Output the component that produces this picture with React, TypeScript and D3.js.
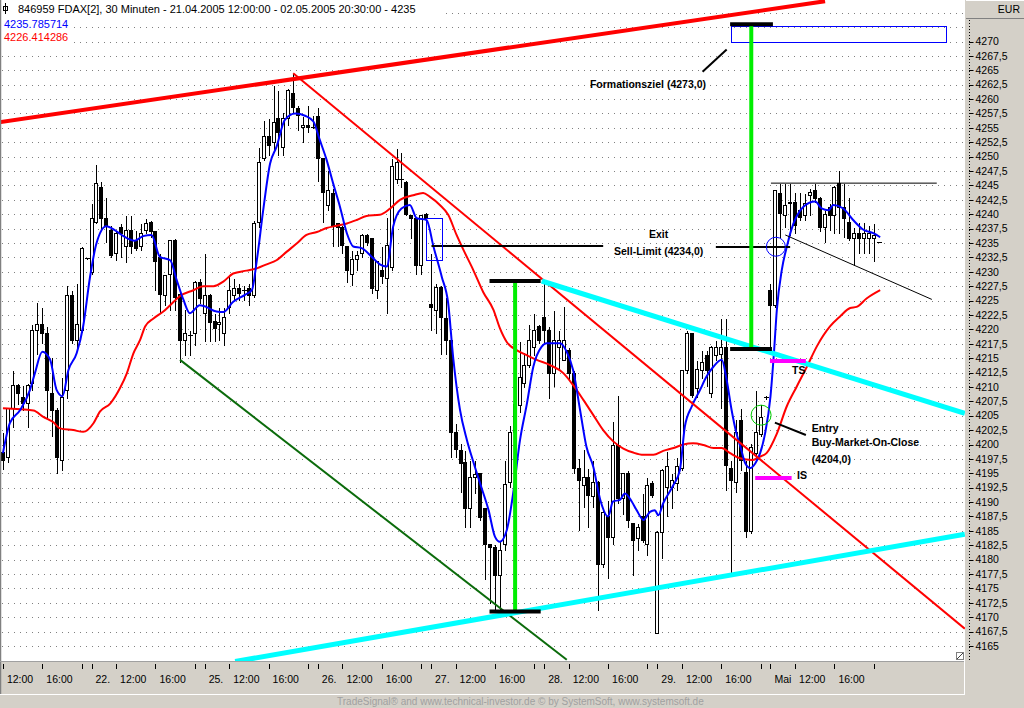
import React from 'react';
import * as d3 from 'd3';

// FDAX 30-minute bars, 21.04.2005 12:00 .. 02.05.2005 20:30 (179 bars)
const opens = [
  4198.7, 4197.9, 4206.3, 4210.4, 4208.3, 4207.2, 4210.6, 4219.9, 4220.9, 4219.4,
  4208.9, 4206.0, 4197.3, 4209.5, 4226.0, 4218.2, 4219.9, 4232.4, 4230.0, 4238.7,
  4244.8, 4239.3, 4237.3, 4233.2, 4237.8, 4234.4, 4237.3, 4235.6, 4234.4, 4237.3,
  4238.7, 4237.0, 4232.6, 4226.0, 4229.7, 4235.5, 4226.2, 4218.2, 4219.0, 4219.3,
  4228.3, 4222.8, 4226.0, 4221.4, 4220.9, 4219.3, 4223.9, 4226.0, 4227.2, 4226.8,
  4227.2, 4226.0, 4238.7, 4249.7, 4253.5, 4252.6, 4256.7, 4251.7, 4256.7, 4261.0,
  4258.4, 4255.2, 4255.5, 4255.2, 4257.0, 4249.7, 4241.6, 4243.6, 4238.4, 4237.8,
  4234.4, 4229.7, 4232.3, 4233.2, 4236.4, 4235.8, 4226.8, 4230.3, 4228.9, 4230.9,
  4246.2, 4246.2, 4245.6, 4239.9, 4239.3, 4231.2, 4240.1, 4224.4, 4223.4, 4227.4,
  4221.9, 4218.2, 4202.2, 4199.0, 4197.0, 4188.9, 4194.4, 4195.0, 4188.9, 4182.8,
  4182.2, 4177.3, 4182.8, 4193.5, 4202.2, 4206.8, 4210.6, 4213.8, 4217.0, 4220.5,
  4222.2, 4219.9, 4212.4, 4217.0, 4214.7, 4216.4, 4212.4, 4195.9, 4192.9, 4194.4,
  4191.0, 4193.5, 4179.3, 4187.5, 4184.0, 4199.9, 4190.7, 4195.0, 4186.3, 4183.7,
  4187.5, 4182.8, 4193.3, 4167.2, 4184.8, 4192.7, 4192.7, 4193.3, 4195.9, 4213.0,
  4219.3, 4209.8, 4213.0, 4215.5, 4208.9, 4215.5, 4215.8, 4217.0, 4195.9, 4193.5,
  4204.2, 4195.3, 4184.9, 4198.5, 4201.9, 4208.3, 4226.8, 4224.2, 4243.6, 4239.9,
  4241.9, 4242.2, 4240.7, 4239.9, 4243.3, 4244.2, 4242.8, 4237.8, 4241.3, 4239.9,
  4245.4, 4241.3, 4238.7, 4235.8, 4236.7, 4235.8, 4235.8, 4235.8, 4235.2,
];
const highs = [
  4202.2, 4206.6, 4212.9, 4210.6, 4210.3, 4210.6, 4221.0, 4224.8, 4223.9, 4220.5,
  4215.2, 4206.6, 4211.8, 4227.7, 4226.8, 4228.0, 4234.4, 4232.6, 4241.9, 4248.8,
  4245.7, 4243.0, 4238.1, 4237.3, 4238.4, 4239.9, 4239.9, 4237.3, 4238.4, 4239.3,
  4239.0, 4237.3, 4233.2, 4229.7, 4235.5, 4235.8, 4226.8, 4223.6, 4219.9, 4228.6,
  4229.0, 4233.2, 4226.3, 4222.8, 4223.9, 4223.9, 4229.2, 4228.9, 4228.0, 4227.7,
  4228.0, 4239.0, 4251.7, 4256.4, 4256.7, 4262.4, 4261.6, 4257.8, 4261.9, 4264.5,
  4259.0, 4257.0, 4259.0, 4257.2, 4258.7, 4250.0, 4247.7, 4244.5, 4238.7, 4238.1,
  4234.7, 4233.8, 4233.8, 4236.7, 4236.7, 4236.1, 4232.1, 4234.4, 4239.6, 4249.7,
  4251.5, 4250.8, 4245.9, 4240.1, 4239.6, 4240.1, 4240.4, 4233.2, 4228.0, 4227.7,
  4225.7, 4218.4, 4203.7, 4200.2, 4199.0, 4197.3, 4197.3, 4195.3, 4189.2, 4182.8,
  4182.8, 4183.4, 4197.3, 4203.4, 4212.0, 4217.9, 4216.1, 4221.0, 4222.8, 4221.0,
  4228.6, 4220.5, 4223.4, 4219.9, 4224.0, 4217.0, 4213.0, 4197.6, 4199.3, 4195.9,
  4197.3, 4193.8, 4188.6, 4190.4, 4204.0, 4208.6, 4195.3, 4195.6, 4186.6, 4186.3,
  4191.5, 4194.4, 4193.8, 4185.1, 4195.9, 4198.8, 4195.0, 4197.9, 4213.0, 4219.9,
  4219.6, 4214.7, 4216.4, 4216.4, 4217.3, 4218.2, 4221.9, 4221.9, 4197.3, 4204.5,
  4206.3, 4197.3, 4200.2, 4209.5, 4207.1, 4208.6, 4228.0, 4244.2, 4245.4, 4245.4,
  4245.4, 4243.9, 4243.9, 4243.6, 4244.5, 4245.4, 4243.1, 4240.7, 4241.9, 4245.1,
  4247.7, 4245.4, 4243.0, 4237.8, 4238.7, 4238.7, 4238.1, 4238.4, 4235.2,
];
const lows = [
  4195.8, 4197.0, 4203.1, 4207.1, 4206.0, 4203.1, 4209.5, 4215.8, 4217.6, 4204.8,
  4201.4, 4195.0, 4195.6, 4208.0, 4217.6, 4216.4, 4219.6, 4232.2, 4229.7, 4238.4,
  4237.3, 4235.2, 4232.6, 4232.0, 4232.6, 4231.7, 4233.2, 4233.8, 4233.8, 4236.7,
  4236.1, 4226.8, 4223.1, 4224.2, 4223.4, 4223.4, 4214.4, 4215.5, 4215.5, 4217.3,
  4224.5, 4217.9, 4217.9, 4217.9, 4218.2, 4217.3, 4222.8, 4225.1, 4225.1, 4225.1,
  4224.2, 4225.7, 4237.8, 4249.4, 4250.3, 4251.2, 4250.3, 4250.3, 4255.5, 4257.5,
  4254.6, 4252.6, 4254.3, 4254.9, 4245.7, 4238.7, 4240.7, 4234.4, 4234.4, 4233.2,
  4228.3, 4227.7, 4230.3, 4232.6, 4234.7, 4226.3, 4225.4, 4228.0, 4222.8, 4230.3,
  4245.5, 4244.8, 4239.9, 4235.8, 4229.7, 4229.7, 4239.0, 4219.9, 4219.3, 4215.8,
  4215.8, 4197.9, 4197.9, 4191.8, 4185.7, 4185.7, 4191.5, 4186.9, 4176.7, 4172.4,
  4171.2, 4170.9, 4181.6, 4192.7, 4200.5, 4205.7, 4210.0, 4213.5, 4215.5, 4217.6,
  4217.6, 4208.0, 4210.1, 4213.0, 4214.7, 4211.2, 4195.0, 4185.1, 4189.2, 4185.7,
  4189.2, 4171.3, 4178.8, 4176.8, 4182.8, 4189.8, 4188.0, 4185.7, 4177.3, 4181.7,
  4183.1, 4180.8, 4190.9, 4167.2, 4180.2, 4187.5, 4188.9, 4192.1, 4195.6, 4212.4,
  4208.3, 4208.3, 4211.5, 4210.1, 4208.3, 4214.7, 4206.3, 4192.1, 4177.3, 4191.8,
  4195.6, 4184.0, 4184.6, 4197.3, 4201.4, 4207.9, 4216.7, 4223.9, 4236.1, 4237.8,
  4236.4, 4236.7, 4239.0, 4239.0, 4239.9, 4242.2, 4237.0, 4235.2, 4237.3, 4236.7,
  4236.7, 4236.1, 4235.5, 4231.2, 4233.2, 4233.2, 4233.2, 4231.8, 4235.2,
];
const closes = [
  4197.3, 4206.3, 4210.4, 4208.9, 4207.2, 4210.4, 4219.9, 4220.9, 4219.3, 4209.5,
  4206.0, 4197.9, 4208.3, 4226.0, 4218.2, 4221.0, 4234.2, 4232.4, 4239.3, 4245.4,
  4239.3, 4238.1, 4232.9, 4236.7, 4236.7, 4237.3, 4234.4, 4234.1, 4236.7, 4238.4,
  4237.0, 4231.8, 4226.2, 4229.4, 4235.5, 4225.7, 4218.2, 4219.3, 4219.0, 4228.3,
  4225.5, 4226.0, 4221.3, 4220.3, 4221.3, 4222.2, 4226.8, 4227.2, 4226.3, 4226.8,
  4226.0, 4238.4, 4249.1, 4253.5, 4252.0, 4256.1, 4254.3, 4256.7, 4261.6, 4258.7,
  4257.2, 4255.5, 4255.2, 4255.2, 4249.7, 4243.9, 4244.2, 4238.1, 4237.8, 4234.7,
  4230.3, 4232.3, 4232.9, 4236.4, 4235.2, 4227.1, 4231.8, 4229.3, 4234.6, 4248.3,
  4249.0, 4246.2, 4240.1, 4239.3, 4231.2, 4239.9, 4239.3, 4223.9, 4227.4, 4222.2,
  4218.2, 4202.2, 4199.3, 4196.7, 4188.9, 4194.4, 4194.9, 4187.4, 4182.8, 4182.2,
  4177.3, 4181.6, 4193.2, 4202.2, 4207.0, 4211.8, 4213.8, 4218.2, 4219.9, 4218.2,
  4219.9, 4212.4, 4218.2, 4218.2, 4218.2, 4212.4, 4195.9, 4193.8, 4194.4, 4191.2,
  4193.5, 4179.3, 4188.3, 4184.0, 4199.9, 4190.7, 4195.0, 4186.9, 4183.4, 4185.7,
  4183.4, 4192.9, 4191.2, 4184.8, 4195.6, 4196.2, 4193.8, 4196.2, 4213.0, 4219.3,
  4208.6, 4213.2, 4214.4, 4213.0, 4217.0, 4217.0, 4217.0, 4196.4, 4193.8, 4202.2,
  4197.3, 4184.9, 4199.6, 4202.2, 4204.8, 4208.3, 4224.2, 4244.2, 4240.2, 4241.6,
  4242.2, 4238.1, 4239.6, 4241.9, 4243.9, 4242.8, 4237.8, 4240.1, 4239.9, 4244.8,
  4241.3, 4239.3, 4235.8, 4236.7, 4235.8, 4236.7, 4236.7, 4236.4, 4235.2,
];

// short moving average (blue) as [bar, price]
const blueAvg = [
  [0, 4198.5], [1.4, 4203.7], [3.5, 4206.0], [5.5, 4209.5], [6.5, 4212.4], [8, 4216.1],
  [9.6, 4214.7], [10.9, 4209.5], [12.1, 4208.4], [13.3, 4212.9], [15, 4215.9], [16.3, 4220.5],
  [17.7, 4229.1], [19, 4234.9], [21, 4237.9], [22.8, 4237.2], [24.5, 4236.2], [26.8, 4235.4],
  [28.5, 4236.2], [30.2, 4236.4], [31.9, 4232.6], [34, 4232.0], [35.3, 4228.6], [36.7, 4225.1],
  [38, 4222.8], [40, 4224.2], [41, 4224.0], [43.4, 4223.1], [44.8, 4223.0], [46.8, 4224.8],
  [49.2, 4226.0], [50.6, 4226.8], [51.6, 4232.0], [52.9, 4240.7], [54.3, 4248.8], [55.6, 4251.7],
  [57.3, 4256.4], [59.4, 4257.5], [61.4, 4257.1], [63.1, 4256.1], [64.4, 4252.9], [65.8, 4249.4],
  [67.1, 4245.4], [68.5, 4241.3], [69.9, 4236.7], [71.2, 4234.4], [72.9, 4234.1], [75.3, 4232.3],
  [76.6, 4231.3], [78, 4230.9], [79.3, 4237.8], [81, 4241.0], [82.7, 4241.6], [84.1, 4239.3],
  [86.1, 4239.0], [87.5, 4234.4], [89.2, 4229.1], [90.5, 4224.5], [91.5, 4215.2], [92.9, 4206.0],
  [94.3, 4200.8], [95.6, 4197.0], [97, 4193.2], [98.7, 4188.6], [100, 4184.0], [101, 4183.1],
  [102.4, 4185.1], [103.7, 4191.5], [105.1, 4200.8], [106.5, 4207.1], [107.8, 4213.5],
  [109.5, 4217.0], [110.5, 4217.6], [113.2, 4217.6], [114.6, 4216.1], [115.9, 4212.9],
  [117.3, 4206.0], [118.6, 4199.6], [120, 4196.1], [121.4, 4190.4], [123, 4187.5], [124, 4190.1],
  [125.4, 4190.4], [126.4, 4191.5], [127.8, 4190.1], [128.8, 4188.6], [130.2, 4186.9],
  [131.5, 4188.3], [132.5, 4188.6], [133.2, 4187.7], [134.2, 4189.8], [136.3, 4193.0],
  [137.6, 4195.6], [138.6, 4203.1], [140, 4206.6], [141.7, 4209.5], [143, 4211.8], [144.4, 4213.5],
  [146.1, 4214.7], [147.1, 4211.2], [148.1, 4206.0], [149.1, 4201.9], [149.9, 4199.6],
  [150.9, 4196.7], [151.9, 4195.9], [152.9, 4196.7], [153.9, 4198.5], [154.9, 4201.9],
  [156, 4208.3], [156.7, 4215.8], [157.3, 4223.4], [158.3, 4230.3], [159.4, 4234.6],
  [160.2, 4237.2], [161.3, 4239.6], [162.7, 4241.3], [165.1, 4242.2], [166.4, 4241.0],
  [167.8, 4240.7], [168.8, 4241.6], [170.8, 4241.0], [172.8, 4239.0], [174.9, 4237.3],
  [176.9, 4236.7], [178.3, 4236.0],
];

// long moving average (red)
const redAvg = [
  [0, 4206.3], [6.2, 4205.9], [8.2, 4204.8], [10.2, 4203.9], [11.6, 4202.8], [14.3, 4202.5],
  [16.3, 4202.2], [18.4, 4203.7], [19.7, 4205.7], [21.8, 4207.1], [23.8, 4209.8], [25.2, 4212.4],
  [26.5, 4215.8], [27.9, 4218.2], [28.9, 4220.5], [30.6, 4221.9], [32.6, 4223.1], [34, 4224.2],
  [36, 4225.8], [38.7, 4226.8], [40.7, 4227.5], [42.8, 4227.5], [44.8, 4228.3], [46.8, 4229.7],
  [49.5, 4230.2], [51.6, 4230.6], [53.6, 4231.3], [55.6, 4232.0], [57.7, 4233.5], [59.7, 4234.9],
  [61.7, 4236.4], [63.8, 4236.9], [65.8, 4237.6], [67.8, 4238.0], [69.9, 4238.4], [71.9, 4239.0],
  [73.9, 4239.7], [76.6, 4239.9], [78.7, 4241.0], [80.7, 4242.5], [83.4, 4243.3], [85.4, 4243.7],
  [86.8, 4243.0], [88.8, 4241.6], [90.5, 4239.9], [92.2, 4236.4], [93.6, 4233.8], [95.6, 4230.3],
  [97.6, 4226.5], [99.7, 4223.4], [101, 4220.2], [102.4, 4217.8], [104.4, 4216.4], [106.5, 4215.5],
  [108.5, 4214.7], [111.2, 4213.8], [113.9, 4212.4], [115.9, 4210.3], [118, 4207.7], [120, 4205.1],
  [122, 4202.5], [124.1, 4200.5], [126.1, 4199.3], [128.1, 4198.6], [130.2, 4198.2], [132.2, 4198.2],
  [134.2, 4198.9], [136.3, 4199.4], [138.3, 4200.0], [140.3, 4200.2], [142.4, 4199.9],
  [144.4, 4199.4], [146.1, 4199.4], [147.8, 4198.5], [149.8, 4197.6], [152.3, 4197.3],
  [153.6, 4197.8], [155.2, 4198.5], [157.3, 4201.9], [159.3, 4206.6], [161.3, 4210.0],
  [163.4, 4213.5], [165.4, 4217.0], [168.1, 4220.5], [170.1, 4222.2], [172.2, 4223.7],
  [173.5, 4223.9], [175.6, 4225.4], [178.3, 4226.8],
];

// time axis: bar index of each tick and its label ('' = tick only)
const timeTickBars = [0, 8, 16, 18, 23, 31, 39, 41, 46, 54, 62, 64, 69, 77, 85, 87, 92, 100, 108,
  110, 115, 123, 131, 133, 138, 146, 154, 156, 161, 169, 177];
const timeTickLabels = ['12:00', '16:00', '', '22.', '12:00', '16:00', '', '25.', '12:00', '16:00', '',
  '26.', '12:00', '16:00', '', '27.', '12:00', '16:00', '', '28.', '12:00', '16:00', '', '29.', '12:00',
  '16:00', '', 'Mai', '12:00', '16:00', ''];

// drawn annotations, in [bar, price]
const resistLine = [[-0.6, 4256.0], [167.1, 4277.0]];
const downTrend = [[59.0, 4264.5], [195.5, 4168.0]];
const greenTrend = [[36.0, 4214.7], [114.6, 4162.6]];
const cyanLower = [[47.2, 4162.3], [195.5, 4184.4]];
const cyanUpper = [[109.5, 4228.4], [195.5, 4205.4]];
const flagLower = [[159, 4236.4], [188.8, 4225.2]];
const flagUpper = [[156.1, 4245.4], [189.8, 4245.4]];
const exitLineA = [[87.1, 4234.5], [122, 4234.5]];
const exitLineB = [[144.9, 4234.3], [160, 4234.3]];
const targetPointer = [[142.2, 4264.75], [147.1, 4268.6]];
const entryPointer = [[156.9, 4203.8], [163.2, 4201.65]];

// [fromBar, toBar, price]
const measureCaps = [[147.8, 156.5, 4273.0], [98.9, 109.3, 4228.4], [98.9, 109.3, 4171.0], [147.8, 156.3, 4216.6]];
// [bar, fromPrice, toPrice]
const measureLegs = [[104.1, 4228.4, 4171.0], [152.1, 4273.0, 4216.6]];
const stopMarks = [[155.9, 163.2, 4214.5], [152.9, 160.3, 4194.2]];
// [fromBar, toBar, topPrice, bottomPrice]
const boxes = [[148, 191.8, 4272.7, 4269.9], [86, 89.2, 4239.3, 4232.0]];
const exitCircle = [157.1, 4234.35];
const entryCircle = [154.1, 4205.1];

const noteTexts = ['Formationsziel (4273,0)', 'Exit', 'Sell-Limit (4234,0)', 'TS', 'Entry',
  'Buy-Market-On-Close', '(4204,0)', 'IS'];
const noteAt = [[119.3, 4261.9], [131.3, 4235.9], [124.2, 4232.9], [160.4, 4212.2], [164.4, 4202.2],
  [164.4, 4199.7], [164.4, 4196.8], [161.4, 4194.0]];

const W = 1024;
const H = 708;
const PLOT_R = 965;
const PLOT_B = 661;
const FONT = '"Liberation Sans", Arial, sans-serif';

const x = d3.scaleLinear().domain([0, 178]).range([2.94, 878.7]);
const y = d3.scaleLinear().domain([4165, 4270]).range([646, 41.5]);

const gridPrices = d3.range(4165, 4276, 2.5);
const labelPrices = d3.range(4165, 4271, 2.5);
const fmtPrice = (v: number) => d3.format('.1f')(v).replace('.0', '').replace('.', ',');

const px = (v: number) => Math.round(v) + 0.5;

const Seg = ({ pts, color, w }: { pts: number[][]; color: string; w: number }) => (
  <line x1={x(pts[0][0])} y1={y(pts[0][1])} x2={x(pts[1][0])} y2={y(pts[1][1])} stroke={color} strokeWidth={w} />
);

export default function App() {
  const maLine = d3.line<number[]>().x(d => x(d[0])).y(d => y(d[1])).curve(d3.curveMonotoneX);

  const candles = closes.map((c, i) => {
    const o = opens[i];
    const cx = px(x(i));
    const top = px(y(Math.max(o, c)));
    const bot = px(y(Math.min(o, c)));
    return (
      <g key={i}>
        <line x1={cx} x2={cx} y1={px(y(highs[i]))} y2={px(y(lows[i]))} stroke="#000" />
        {bot - top < 1 ? (
          <line x1={cx - 2.5} x2={cx + 2.5} y1={top} y2={top} stroke="#000" />
        ) : (
          <rect x={cx - 2} y={top} width={3} height={bot - top} fill={c >= o ? '#fff' : '#000'} stroke="#000" />
        )}
      </g>
    );
  });

  return (
    <div style={{ position: 'absolute', left: 0, top: 0 }}>
      <svg width={W} height={H} style={{ display: 'block', fontFamily: FONT }}>
        <defs>
          <clipPath id="plot-clip">
            <rect x={1} y={0} width={PLOT_R - 1} height={PLOT_B} />
          </clipPath>
        </defs>
        <rect width={W} height={H} fill="#d4d0c8" />
        <rect x={0} y={0} width={PLOT_R} height={PLOT_B} fill="#fff" />

        {/* grid */}
        {gridPrices.map(v => (
          <line key={v} x1={2} x2={PLOT_R - 2} y1={px(y(v))} y2={px(y(v))} stroke="#808080" strokeDasharray="1 5" />
        ))}

        {/* legend */}
        <rect x={1} y={1} width={440} height={14} fill="#fff" />
        <rect x={1} y={17} width={68} height={13} fill="#fff" />
        <rect x={1} y={31} width={68} height={13} fill="#fff" />
        <rect x={3.5} y={6.5} width={4} height={4} fill="none" stroke="#000" />
        <line x1={5.5} x2={5.5} y1={3} y2={14} stroke="#000" />
        <text x={18} y={13} fontSize={11} fill="#000">
          846959  FDAX[2], 30 Minuten - 21.04.2005 12:00:00 - 02.05.2005 20:30:00 - 4235
        </text>
        <text x={4} y={27.5} fontSize={11} fill="#0000ff">4235.785714</text>
        <text x={4} y={41} fontSize={11} fill="#ff0000">4226.414286</text>

        <g clipPath="url(#plot-clip)" shapeRendering="crispEdges">
          {candles}
        </g>

        <g clipPath="url(#plot-clip)" fill="none">
          <path d={maLine(redAvg) || ''} stroke="#ff0000" strokeWidth={2} />
          <path d={maLine(blueAvg) || ''} stroke="#0000ff" strokeWidth={2} />

          <Seg pts={resistLine} color="#ff0000" w={4} />
          <Seg pts={downTrend} color="#ff0000" w={2} />
          <Seg pts={greenTrend} color="#0b6b0b" w={2} />
          <Seg pts={cyanLower} color="#00ffff" w={5} />
          <Seg pts={cyanUpper} color="#00ffff" w={5} />
          <Seg pts={flagLower} color="#000" w={1} />
          <Seg pts={flagUpper} color="#000" w={1} />
          <Seg pts={exitLineA} color="#000" w={2} />
          <Seg pts={exitLineB} color="#000" w={2} />
          <Seg pts={targetPointer} color="#000" w={2} />
          <Seg pts={entryPointer} color="#000" w={2} />

          {boxes.map((b, k) => (
            <rect key={k} x={px(x(b[0]))} y={px(y(b[2]))} width={Math.round(x(b[1]) - x(b[0]))}
              height={Math.round(y(b[3]) - y(b[2]))} stroke="#0000ff" strokeWidth={1} />
          ))}
          {measureLegs.map((l, k) => (
            <line key={k} x1={x(l[0])} x2={x(l[0])} y1={y(l[1])} y2={y(l[2])} stroke="#00ee00" strokeWidth={4} />
          ))}
          {measureCaps.map((c, k) => (
            <line key={k} x1={x(c[0])} x2={x(c[1])} y1={y(c[2])} y2={y(c[2])} stroke="#000" strokeWidth={4} />
          ))}
          {stopMarks.map((s, k) => (
            <line key={k} x1={x(s[0])} x2={x(s[1])} y1={y(s[2])} y2={y(s[2])} stroke="#ff00ff" strokeWidth={4} />
          ))}
          <circle cx={x(exitCircle[0])} cy={y(exitCircle[1])} r={9.5} stroke="#0000ff" strokeWidth={1} />
          <circle cx={x(entryCircle[0])} cy={y(entryCircle[1])} r={10} stroke="#00cc00" strokeWidth={1} />
        </g>

        {noteTexts.map((t, k) => (
          <text key={k} x={x(noteAt[k][0])} y={y(noteAt[k][1])} fontSize={10.5} fontWeight="bold" fill="#000">
            {t}
          </text>
        ))}

        {/* frame */}
        <line x1={0.5} x2={0.5} y1={0} y2={695} stroke="#808080" strokeWidth={1.5} />
        <rect x={956.5} y={652.5} width={7} height={7} fill="#fff" stroke="#808080" />
        <line x1={957} y1={659} x2={963} y2={653} stroke="#404040" />

        {/* price axis */}
        <rect x={PLOT_R + 1} y={0} width={W - PLOT_R - 1} height={18} fill="#d4d0c8" />
        <line x1={PLOT_R + 1} x2={W} y1={18.5} y2={18.5} stroke="#808080" />
        <line x1={PLOT_R + 1} x2={W} y1={0.5} y2={0.5} stroke="#fff" />
        <text x={1020} y={13} fontSize={10.5} textAnchor="end" fill="#000">EUR</text>
        <line x1={969.5} x2={969.5} y1={20} y2={PLOT_B} stroke="#000" strokeDasharray="1 2" />
        {labelPrices.map(v => (
          <g key={v}>
            <line x1={969} x2={973.5} y1={px(y(v))} y2={px(y(v))} stroke="#000" />
            <text x={975.5} y={y(v)} dy="0.36em" fontSize={10.5} fill="#000">{fmtPrice(v)}</text>
          </g>
        ))}

        {/* time axis */}
        <line x1={0} x2={PLOT_R} y1={PLOT_B + 0.5} y2={PLOT_B + 0.5} stroke="#a0a0a0" />
        <line x1={0} x2={PLOT_R} y1={694.5} y2={694.5} stroke="#fff" />
        <line x1={PLOT_R - 0.5} x2={PLOT_R - 0.5} y1={PLOT_B} y2={695} stroke="#fff" />
        {timeTickBars.map((b, k) => (
          <g key={k}>
            <line x1={px(x(b))} x2={px(x(b))} y1={664} y2={669} stroke="#000" />
            {timeTickLabels[k] && (
              <text x={x(b) + 4} y={683} fontSize={10.5} fill="#000">{timeTickLabels[k]}</text>
            )}
          </g>
        ))}
        <text x={337} y={705} fontSize={10} fill="#a0a0a0">
          TradeSignal® and www.technical-investor.de © by  SystemSoft, www.systemsoft.de
        </text>
      </svg>
    </div>
  );
}
